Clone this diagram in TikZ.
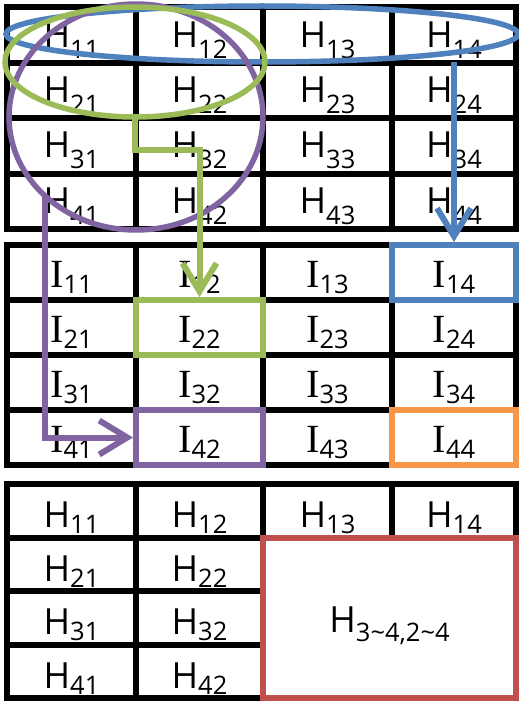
\documentclass[tikz,border=0pt]{standalone}
\usepackage{fontspec}
\setmainfont{Open Sans}
\newfontfamily\Ifont{Liberation Serif}
\usetikzlibrary{shapes.geometric,arrows.meta,fit}
\definecolor{cBlue}{HTML}{4F81BD}
\definecolor{cGreen}{HTML}{9BBB59}
\definecolor{cPurple}{HTML}{8064A2}
\definecolor{cOrange}{HTML}{F79646}
\definecolor{cRed}{HTML}{C0504D}
\newcommand\Hlab[2]{\fontsize{36}{36}\selectfont H\raisebox{-#2}{\fontsize{25.5}{25.5}\selectfont #1}}
\newcommand\Ilab[2]{{\Ifont\fontsize{40}{40}\selectfont I}\raisebox{-#2}{\fontsize{25.5}{25.5}\selectfont #1}}
\def\colx{{7,136,263,392,516}}
\def\rowH{{7.5,62.9,118.25,173.6,229}}
\def\rowI{{245,300,355,410,465}}
\def\rowB{{484,537.5,591,644.5,698}}
\begin{document}
\begin{tikzpicture}[x=1pt,y=-1pt,
  cellbox/.style={draw=black, line width=6pt, inner sep=0pt, outer sep=0pt},
  celltext/.style={anchor=base, inner sep=0pt},
  hlbox/.style={line width=6pt},
  ring/.style={ellipse, draw, line width=5.5pt, inner sep=0pt, outer sep=0pt},
  flow/.style={line width=6pt, -{Straight Barb[length=28pt,width=34pt]}, shorten >=3pt}]
\useasboundingbox (0,0) rectangle (519,701);
\fill[white] (0,0) rectangle (519,701);
% top grid H
\foreach \r in {1,...,4} \foreach \c in {1,...,4} {
  \pgfmathsetmacro\xl{\colx[\c-1]}\pgfmathsetmacro\xr{\colx[\c]}
  \pgfmathsetmacro\yt{\rowH[\r-1]}\pgfmathsetmacro\yb{\rowH[\r]}
  \node[cellbox, fit={(\xl,\yt) (\xr,\yb)}] (H-\r-\c) {};
  \node[celltext, yshift=-12pt] (tH-\r-\c) at (H-\r-\c.center) {\Hlab{\r\c}{11pt}};
}
% middle grid I
\foreach \r in {1,...,4} \foreach \c in {1,...,4} {
  \pgfmathsetmacro\xl{\colx[\c-1]}\pgfmathsetmacro\xr{\colx[\c]}
  \pgfmathsetmacro\yt{\rowI[\r-1]}\pgfmathsetmacro\yb{\rowI[\r]}
  \node[cellbox, fit={(\xl,\yt) (\xr,\yb)}] (I-\r-\c) {};
  \node[celltext, yshift=-15pt] (tI-\r-\c) at (I-\r-\c.center) {\Ilab{\r\c}{6pt}};
}
% bottom grid H
\foreach \r in {1,...,4} \foreach \c in {1,...,4} {
  \pgfmathtruncatemacro\hide{(\r>1)&&(\c>2)}
  \ifnum\hide=0
  \pgfmathsetmacro\xl{\colx[\c-1]}\pgfmathsetmacro\xr{\colx[\c]}
  \pgfmathsetmacro\yt{\rowB[\r-1]}\pgfmathsetmacro\yb{\rowB[\r]}
  \node[cellbox, fit={(\xl,\yt) (\xr,\yb)}] (B-\r-\c) {};
  \node[celltext, yshift=-17pt] (tB-\r-\c) at (B-\r-\c.center) {\Hlab{\r\c}{6pt}};
  \fi
}
\node[draw=cRed, line width=6pt, fill=white, inner sep=0pt, outer sep=0pt, fit={(263,537.5) (516,698)}] (redbox) {};
\node[celltext, yshift=-15pt] (tRed) at (redbox.center) {\Hlab{3\textasciitilde4,2\textasciitilde4}{9pt}};
% highlight boxes
\draw[hlbox, cBlue] (I-1-4.north west) rectangle (I-1-4.south east);
\draw[hlbox, cGreen] (I-2-2.north west) rectangle (I-2-2.south east);
\draw[hlbox, cPurple] (I-4-2.north west) rectangle (I-4-2.south east);
\draw[hlbox, cOrange] (I-4-4.north west) rectangle (I-4-4.south east);
% ellipses
\node[ring, draw=cBlue, minimum width=512pt, minimum height=56pt] (blueell) at (262,34) {};
\node[ring, draw=cPurple, minimum width=254pt, minimum height=226pt] (purpell) at (136,117) {};
\node[ring, draw=cGreen, minimum width=260pt, minimum height=110pt] (greenell) at (135,62) {};
% arrows
\draw[flow, cBlue] (blueell.south -| I-1-4.north) -- (I-1-4.north);
\draw[flow, cGreen] (greenell.south) -- ++(0,33) -| (I-2-2.north);
\draw[flow, cPurple] (purpell.221) |- (I-4-2.west);
\end{tikzpicture}
\end{document}
